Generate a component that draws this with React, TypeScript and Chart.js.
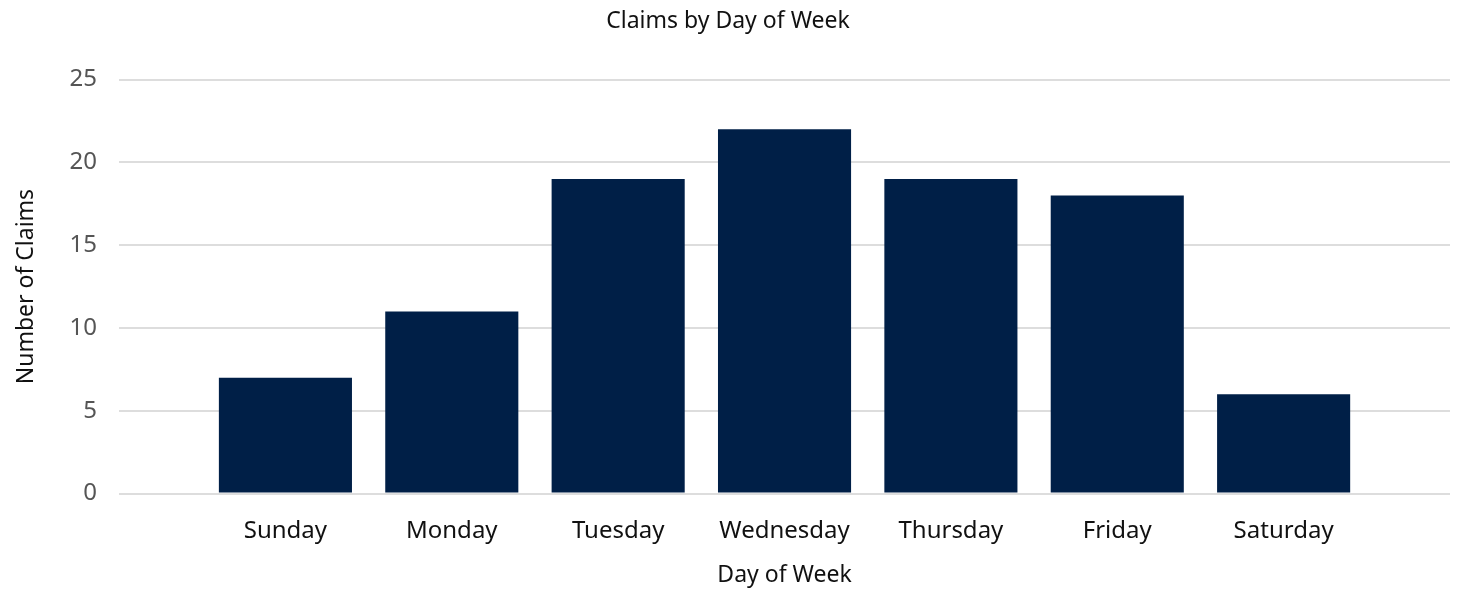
import React, { useEffect, useRef } from "react";
import { Chart, registerables } from "chart.js";

Chart.register(...registerables);

const days = ["Sunday", "Monday", "Tuesday", "Wednesday", "Thursday", "Friday", "Saturday"];
const claims = [7, 11, 19, 22, 19, 18, 6];
const yTicks = [0, 5, 10, 15, 20, 25];

const chartTitle = "Claims by Day of Week";
const xTitle = "Day of Week";
const yTitle = "Number of Claims";

const FONT = "'Segoe UI', 'Noto Sans', 'Open Sans', sans-serif";

export default function App() {
  const ref = useRef<HTMLCanvasElement | null>(null);

  useEffect(() => {
    if (!ref.current) return;
    const labels = ["", ...days, ""];
    const data = [null, ...claims, null];
    const chart = new Chart(ref.current, {
      type: "bar",
      data: {
        labels,
        datasets: [
          {
            label: yTitle,
            data,
            backgroundColor: "#001F47",
            borderWidth: 0,
            barPercentage: 1,
            categoryPercentage: 0.8,
          },
        ],
      },
      options: {
        animation: false,
        responsive: true,
        maintainAspectRatio: false,
        layout: { padding: { left: 6, right: 8, top: 6, bottom: 8 } },
        plugins: {
          legend: { display: false },
          tooltip: { enabled: false },
          title: {
            display: true,
            text: chartTitle,
            color: "#111",
            font: { family: FONT, size: 23, weight: "normal" },
            padding: { top: 2, bottom: 44 },
          },
        },
        scales: {
          x: {
            offset: false,
            grid: { display: false, drawTicks: false },
            border: { display: false },
            afterFit: (s: any) => {
              s.paddingLeft = 0;
              s.paddingRight = 0;
            },
            ticks: {
              color: "#111",
              font: { family: FONT, size: 24 },
              padding: 23,
              maxRotation: 0,
              autoSkip: false,
            },
            title: {
              display: true,
              text: xTitle,
              color: "#111",
              font: { family: FONT, size: 23 },
              padding: { top: -7, bottom: 0 },
            },
          },
          y: {
            min: 0,
            max: 25,
            afterBuildTicks: (axis: any) => {
              axis.ticks = yTicks.map((v) => ({ value: v }));
            },
            grid: { color: "#DDDDDD", lineWidth: 2, drawTicks: false },
            border: { display: false },
            ticks: {
              color: "#555",
              font: { family: FONT, size: 24 },
              padding: 22,
            },
            title: {
              display: true,
              text: yTitle,
              color: "#111",
              font: { family: FONT, size: 23 },
              padding: { top: 7, bottom: 7 },
            },
          },
        },
      },
    });
    return () => chart.destroy();
  }, []);

  return (
    <div style={{ position: "fixed", left: 0, top: 0, width: 1458, height: 597, background: "#fff" }}>
      <canvas ref={ref} />
    </div>
  );
}
